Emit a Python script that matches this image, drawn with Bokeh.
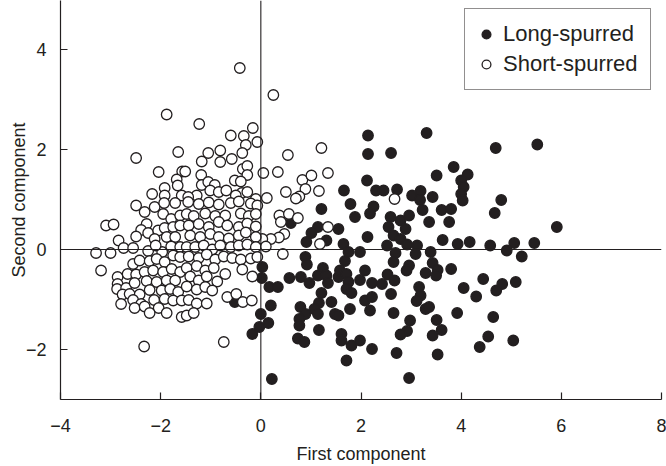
from bokeh.plotting import figure
from bokeh.models import Span, FixedTicker, Legend, LegendItem
from bokeh.embed import file_html
from bokeh.resources import INLINE

# ---------------- data ----------------
X_TICKS = [-4, -2, 0, 2, 4, 6, 8]
X_TICK_LABELS = ["\u22124", "\u22122", "0", "2", "4", "6", "8"]
Y_TICKS = [-2, 0, 2, 4]
Y_TICK_LABELS = ["\u22122", "0", "2", "4"]

SERIES_NAMES = ["Long-spurred", "Short-spurred"]
X_LABEL = "First component"
Y_LABEL = "Second component"

# Long-spurred (filled circles)
LONG_X = [3.31, 2.14, 2.14, 2.60, 3.85, 3.51, 4.13, 4.00, 4.05, 2.12,
          2.30, 2.45, 2.72, 3.02, 3.19, 3.18, 3.43, 4.00, 4.03, 2.25,
          2.18, 3.23, 3.61, 3.80, 2.59, 2.79, 2.96, 3.36, 3.76, 2.55,
          2.89, 2.65, 2.79, 2.13, 3.63, 3.93, 4.17, 2.52, 3.12, 2.92,
          4.69, 5.52, 4.80, 4.67, 5.91, 4.58, 5.06, 5.46, 4.91, 1.66,
          1.79, 1.21, 1.88, 0.60, 1.14, 1.55, 1.01, 1.31, 0.91, 1.65,
          0.03, 0.02, 0.17, 0.34, 0.57, 0.80, -0.52, 0.20, 0.00, 0.15,
          -0.03, -0.17, 0.89, 0.92, 1.68, 1.75, 1.98, 0.97, 1.14, 1.24,
          1.31, 1.34, 1.55, 1.58, 1.71, 1.75, 1.71, 1.81, 1.98, 2.08,
          1.21, 1.41, 1.16, 1.07, 1.14, 0.79, 0.89, 0.77, 0.77, 1.16,
          1.48, 1.55, 1.78, 2.08, 0.74, 0.87, 1.61, 1.61, 1.81, 1.98,
          1.71, 0.22, 2.69, 3.09, 3.39, 2.65, 2.96, 2.91, 3.43, 3.29,
          3.53, 3.50, 3.80, 2.22, 2.42, 2.53, 2.67, 3.16, 3.19, 3.11,
          2.60, 2.22, 2.18, 3.29, 3.36, 2.65, 4.05, 4.30, 4.44, 3.92,
          2.98, 3.51, 3.61, 3.43, 2.92, 2.79, 2.22, 2.71, 3.53, 4.37,
          2.96, 5.21, 4.82, 4.70, 5.09, 4.64, 4.54, 5.04]
LONG_Y = [2.33, 2.28, 1.91, 1.93, 1.65, 1.48, 1.50, 1.38, 1.25, 1.38,
          1.18, 1.18, 1.20, 1.08, 1.17, 0.99, 1.05, 1.11, 0.98, 0.86,
          0.72, 0.79, 0.79, 0.81, 0.65, 0.58, 0.68, 0.55, 0.55, 0.45,
          0.41, 0.28, 0.21, 0.25, 0.19, 0.11, 0.15, 0.08, 0.08, 0.10,
          2.03, 2.10, 0.99, 0.73, 0.45, 0.08, 0.13, 0.13, -0.02, 1.18,
          0.91, 0.81, 0.65, 0.53, 0.45, 0.41, 0.33, 0.18, 0.15, 0.11,
          -0.35, -0.57, -0.75, -0.75, -0.57, -0.55, -1.05, -1.12, -1.29, -1.47,
          -1.55, -1.69, -0.15, -0.30, -0.23, -0.05, -0.05, -0.67, -0.52, -0.37,
          -0.52, -0.67, -0.55, -0.42, -0.49, -0.65, -0.79, -0.87, -0.61, -0.42,
          -0.87, -1.05, -1.07, -1.19, -1.29, -1.15, -1.29, -1.39, -1.52, -1.61,
          -1.29, -1.32, -1.19, -1.02, -1.78, -1.85, -1.69, -1.82, -1.92, -1.82,
          -2.22, -2.59, -0.07, -0.09, -0.05, -0.25, -0.32, -0.42, -0.27, -0.47,
          -0.41, -0.52, -0.39, -0.67, -0.69, -0.50, -0.62, -0.75, -0.92, -1.03,
          -0.89, -0.95, -1.22, -1.19, -1.15, -1.27, -0.77, -0.94, -0.59, -1.27,
          -1.42, -1.41, -1.61, -1.72, -1.63, -1.70, -1.99, -2.07, -2.10, -1.95,
          -2.57, -0.14, -0.69, -0.82, -0.65, -1.35, -1.74, -1.82]

# Short-spurred (open circles)
SHORT_X = [
    -1.88, -2.49, -1.65, -2.04, -1.57, -1.68, -1.66, -1.92, -2.17, -1.92, -1.58,
    -0.42, 0.25, -1.23, -0.16, -0.60, -0.34, -0.30, -0.07, -1.05, -0.81,
    -0.37, 0.54, -1.18, -0.81, -0.58, -0.36, -0.27, -1.51, -1.19, -0.27,
    -0.52, -0.40, -1.18, -1.05, -0.92, -1.01, -0.84, -0.69, -1.28, -1.45,
    -0.38, -0.27, -0.50,
    1.21, 0.05, 0.34, 0.83, 1.01, 1.34, 0.89, 0.50, 1.16, 0.77,
    0.70, 0.12, -0.10, 0.37, 0.56, 0.74, 0.40, 1.34, 1.18, 0.47,
    0.36, 0.20, 0.03, 2.67, 0.44,
    -2.49, -2.32, -2.12, -1.93, -1.71, -1.95, -3.09, -2.94, -2.28, -1.79,
    -1.61, -2.39, -2.25, -2.05, -1.92, -1.75, -1.61, -2.84, -2.49, -2.12,
    -1.88, -1.71, -2.74, -2.55, -3.29, -3.00, -2.25, -1.97, -1.79, -1.61,
    -2.10, -3.19, -2.55, -2.42, -2.22, -2.08, -1.92, -1.75, -1.61, -2.86,
    -2.66, -2.49, -2.32, -2.15, -1.95, -1.78, -1.61, -2.86, -2.87, -2.69,
    -2.52, -2.28, -2.08, -1.88, -1.71, -2.76, -2.62, -2.42, -2.22, -1.98,
    -1.81, -1.65, -2.79, -2.55, -2.39, -2.13, -1.92, -1.75, -1.58, -2.52,
    -2.32, -2.04, -2.22, -1.88, -1.58, -2.33,
    -1.45, -1.24, -1.04, -0.84, -0.60, -0.44, -0.20, -0.07,
    -1.48, -1.34, -1.11, -0.91, -0.71, -0.40, -0.24, -0.10,
    -1.44, -1.24, -1.04, -0.84, -0.67, -0.44, -0.27, -0.10,
    -1.41, -1.21, -1.01, -0.84, -0.64, -0.44, -0.30, -0.10,
    -1.48, -1.31, -1.14, -0.97, -0.81, -0.60, -0.44, -0.27, -0.10, 0.10,
    -1.44, -1.24, -1.08, -0.91, -0.74, -0.57, -0.40, -0.20, -0.07,
    -1.48, -1.28, -1.11, -0.94, -0.71, -0.37, -0.17,
    -1.41, -1.24, -1.08, -0.87,
    -1.48, -1.28, -1.11, -0.97,
    -1.44, -1.28, -1.08,
    -1.48, -1.34,
    -0.74, -0.67, -0.49, -0.36, -0.18]
SHORT_Y = [
    2.70, 1.83, 1.95, 1.55, 1.56, 1.40, 1.28, 1.23, 1.11, 1.08, 1.08,
    3.63, 3.09, 2.51, 2.43, 2.28, 2.27, 2.09, 2.15, 1.93, 1.98,
    1.93, 1.89, 1.76, 1.75, 1.81, 1.61, 1.67, 1.56, 1.49, 1.49,
    1.38, 1.36, 1.29, 1.35, 1.29, 1.18, 1.15, 1.18, 1.08, 1.05,
    1.13, 1.15, 1.08,
    2.03, 1.53, 1.55, 1.39, 1.48, 1.53, 1.21, 1.15, 1.17, 1.06,
    1.02, 1.03, 1.01, 0.68, 0.71, 0.63, 0.55, 0.45, 0.11, 0.31,
    0.24, 0.21, 0.21, 1.01, -0.09,
    0.88, 0.75, 0.85, 0.93, 0.93, 0.71, 0.48, 0.50, 0.51, 0.61,
    0.68, 0.39, 0.33, 0.38, 0.43, 0.45, 0.48, 0.18, 0.26, 0.21,
    0.25, 0.25, 0.03, 0.03, -0.07, -0.07, -0.03, -0.05, 0.06, 0.05,
    0.08, -0.42, -0.29, -0.22, -0.23, -0.19, -0.25, -0.12, -0.15, -0.55,
    -0.49, -0.50, -0.45, -0.42, -0.45, -0.39, -0.45, -0.69, -0.79, -0.77,
    -0.67, -0.63, -0.65, -0.62, -0.62, -0.90, -0.89, -0.90, -0.81, -0.82,
    -0.79, -0.85, -1.09, -1.01, -1.09, -1.01, -0.99, -1.02, -1.02, -1.17,
    -1.14, -1.17, -1.27, -1.27, -1.35, -1.94,
    0.95, 0.91, 0.94, 0.90, 0.93, 0.96, 0.92, 0.88,
    0.71, 0.67, 0.72, 0.67, 0.68, 0.72, 0.67, 0.71,
    0.48, 0.51, 0.45, 0.55, 0.48, 0.45, 0.52, 0.46,
    0.28, 0.25, 0.31, 0.25, 0.22, 0.28, 0.34, 0.25,
    0.05, 0.05, 0.08, 0.00, 0.08, 0.05, 0.08, 0.10, 0.05, 0.06,
    -0.14, -0.17, -0.10, -0.20, -0.14, -0.17, -0.20, -0.18, -0.15,
    -0.37, -0.33, -0.42, -0.37, -0.49, -0.40, -0.54,
    -0.54, -0.62, -0.54, -0.64,
    -0.74, -0.80, -0.75, -0.82,
    -1.01, -1.08, -1.08,
    -1.32, -1.27,
    -1.85, -0.95, -0.89, -1.05, -1.02]

# ---------------- styling ----------------
INK = "#231f20"
FONT = "Liberation Sans"

p = figure(width=666, height=466, x_range=(-4, 8), y_range=(-3, 4.98),
           output_backend="svg", toolbar_location=None,
           min_border_left=60, min_border_right=5, min_border_top=0,
           min_border_bottom=65)
p.outline_line_color = None
p.grid.grid_line_color = None
p.background_fill_color = "white"
p.border_fill_color = "white"

p.xaxis.ticker = FixedTicker(ticks=X_TICKS)
p.xaxis.major_label_overrides = {t: l for t, l in zip(X_TICKS, X_TICK_LABELS)}
p.yaxis.ticker = FixedTicker(ticks=Y_TICKS)
p.yaxis.major_label_overrides = {t: l for t, l in zip(Y_TICKS, Y_TICK_LABELS)}
p.xaxis.axis_label = X_LABEL
p.yaxis.axis_label = Y_LABEL

for ax in (p.xaxis[0], p.yaxis[0]):
    ax.axis_line_color = INK
    ax.axis_line_width = 1.2
    ax.major_tick_line_color = INK
    ax.major_tick_line_width = 1.2
    ax.major_tick_in = 7
    ax.major_tick_out = 0
    ax.minor_tick_line_color = None
    ax.major_label_text_font = FONT
    ax.major_label_text_font_size = "18px"
    ax.major_label_text_color = INK
    ax.axis_label_text_font = FONT
    ax.axis_label_text_font_size = "18px"
    ax.axis_label_text_font_style = "normal"
    ax.axis_label_text_color = INK
p.xaxis.major_label_standoff = 19
p.yaxis.major_label_standoff = 14
p.xaxis.axis_label_standoff = 9
p.yaxis.axis_label_standoff = -6

p.add_layout(Span(location=0, dimension="height", line_color=INK, line_width=1.1))
p.add_layout(Span(location=0, dimension="width", line_color=INK, line_width=1.1))

r_long = p.scatter(LONG_X, LONG_Y, marker="circle", size=10.5,
                   fill_color=INK, line_color=INK, line_width=1.3)
r_short = p.scatter(SHORT_X, SHORT_Y, marker="circle", size=10.5,
                    fill_color="white", line_color=INK, line_width=1.3)

legend = Legend(items=[LegendItem(label=SERIES_NAMES[0], renderers=[r_long]),
                       LegendItem(label=SERIES_NAMES[1], renderers=[r_short])],
                location=(404, 309), margin=0, padding=10, spacing=0,
                glyph_width=22, glyph_height=22, label_height=30,
                label_width=137, label_standoff=6, label_text_font=FONT,
                label_text_font_size="22px", label_text_color=INK,
                border_line_color=INK, border_line_width=1.2,
                background_fill_color="white", background_fill_alpha=1.0)
p.add_layout(legend)

open("out.html", "w").write(file_html(p, INLINE))
